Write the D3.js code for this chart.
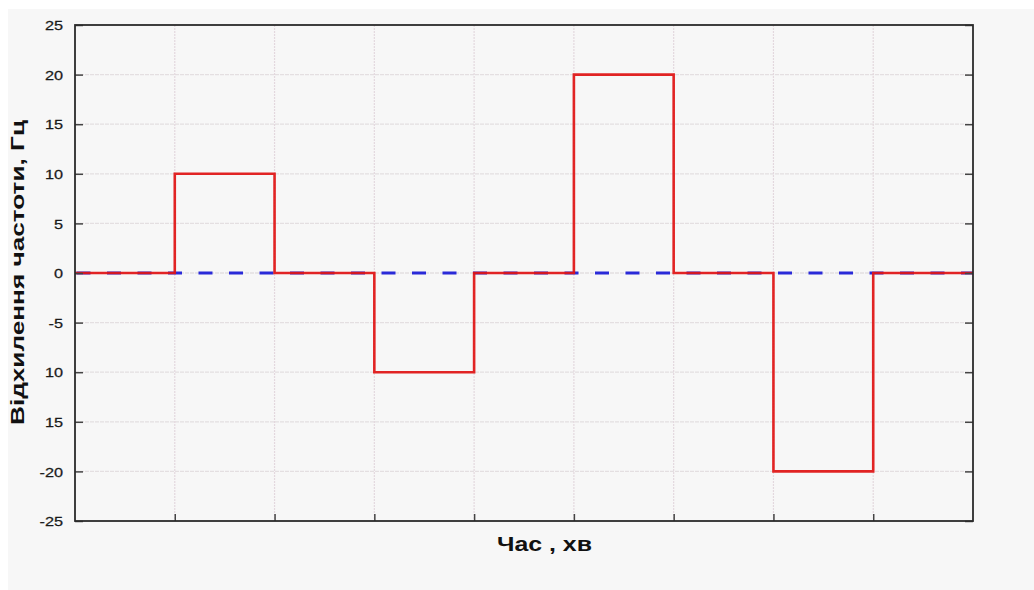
<!DOCTYPE html>
<html>
<head>
<meta charset="utf-8">
<script src="https://cdn.jsdelivr.net/npm/d3@7"></script>
<style>
  html, body { margin: 0; padding: 0; background: #ffffff; }
  svg { display: block; }
</style>
</head>
<body>
<svg id="chart" width="1034" height="590"></svg>
<script>
// ---- data ----
const timeSteps = [0, 1, 2, 3, 4, 5, 6, 7, 8, 9];          // minute boundaries
const freqDeviation = [0, 10, 0, -10, 0, 20, 0, -20, 0];    // Hz, per interval
const nominalLine = [0, 0, 0, 0, 0, 0, 0, 0, 0];            // Hz reference (dashed)
const yTickValues = [25, 20, 15, 10, 5, 0, -5, -10, -15, -20, -25];
const yTickLabels = ["25", "20", "15", "10", "5", "0", "-5", "10", "15", "-20", "-25"];
const xTickValues = [1, 2, 3, 4, 5, 6, 7, 8];
const yTitle = "Відхилення частоти, Гц";
const xTitle = "Час , хв";

(function () {
// ---- layout ----
const svg = d3.select("#chart");
const pL = 75, pT = 25, pR = 973, pB = 521;

svg.append("rect").attr("x", 8).attr("y", 9).attr("width", 1026).attr("height", 581)
  .attr("fill", "#f7f7f7");

const x = d3.scaleLinear().domain([0, 9]).range([pL, pR]);
const y = d3.scaleLinear().domain([-25, 25]).range([pB, pT]);

// grid
const grid = svg.append("g");
grid.selectAll("line.h").data(yTickValues.filter(v => v !== 25 && v !== -25)).join("line")
  .attr("class", "h")
  .attr("x1", pL).attr("x2", pR)
  .attr("y1", d => y(d)).attr("y2", d => y(d))
  .attr("stroke", "#e4dfe1").attr("stroke-width", 1.3).attr("stroke-dasharray", "4,1");
grid.selectAll("line.v").data(xTickValues).join("line")
  .attr("class", "v")
  .attr("x1", d => x(d)).attr("x2", d => x(d))
  .attr("y1", pT).attr("y2", pB)
  .attr("stroke", "#e3d8de").attr("stroke-width", 1.2).attr("stroke-dasharray", "2,1");

// series
const stepPts = (vals) => vals.map((v, i) => [timeSteps[i], v]).concat([[timeSteps[vals.length], vals[vals.length - 1]]]);
const line = d3.line().x(d => x(d[0])).y(d => y(d[1])).curve(d3.curveStepAfter);

svg.append("path").datum(stepPts(nominalLine))
  .attr("d", line).attr("fill", "none")
  .attr("stroke", "#2a2ad8").attr("stroke-width", 3)
  .attr("stroke-dasharray", "14,16.5").attr("stroke-dashoffset", 29);

svg.append("path").datum(stepPts(freqDeviation))
  .attr("d", line).attr("fill", "none")
  .attr("stroke", "#e01414").attr("stroke-width", 2.6)
  .attr("stroke-linejoin", "miter").attr("opacity", 0.93);

// axes
const yAxis = svg.append("g").attr("transform", `translate(${pL},0)`)
  .call(d3.axisLeft(y).tickValues(yTickValues).tickFormat((d, i) => yTickLabels[i]).tickSizeInner(-8).tickSizeOuter(0).tickPadding(0));
yAxis.select(".domain").remove();
yAxis.selectAll(".tick line").attr("stroke", "#444").attr("stroke-width", 1.5);
yAxis.selectAll(".tick text")
  .attr("x", -12 / 1.25).attr("dy", "0.36em")
  .attr("transform", "scale(1.25,1)")
  .attr("font-family", "Liberation Sans, Arial, sans-serif")
  .attr("font-size", 13).attr("fill", "#1a1a1a")
  .attr("stroke", "#1a1a1a").attr("stroke-width", 0.25);

const yAxisR = svg.append("g").attr("transform", `translate(${pR},0)`)
  .call(d3.axisRight(y).tickValues(yTickValues).tickFormat("").tickSizeInner(-8).tickSizeOuter(0));
yAxisR.select(".domain").remove();
yAxisR.selectAll(".tick line").attr("stroke", "#444").attr("stroke-width", 1.5);

const xAxis = svg.append("g").attr("transform", `translate(0,${pB})`)
  .call(d3.axisBottom(x).tickValues(xTickValues).tickFormat("").tickSizeInner(-7).tickSizeOuter(0));
xAxis.select(".domain").remove();
xAxis.selectAll(".tick line").attr("stroke", "#444").attr("stroke-width", 1.5);

// frame
svg.append("rect").attr("x", pL).attr("y", pT)
  .attr("width", pR - pL).attr("height", pB - pT)
  .attr("fill", "none").attr("stroke", "#2b2b2b").attr("stroke-width", 1.8);

// titles
svg.append("text")
  .attr("transform", `translate(24,${(120 + 425) / 2}) rotate(-90)`)
  .attr("text-anchor", "middle")
  .attr("font-family", "Liberation Sans, Arial, sans-serif")
  .attr("font-weight", "bold").attr("font-size", 19).attr("fill", "#111")
  .attr("textLength", 305).attr("lengthAdjust", "spacingAndGlyphs")
  .text(yTitle);

svg.append("text")
  .attr("x", 497).attr("y", 551)
  .attr("font-family", "Liberation Sans, Arial, sans-serif")
  .attr("font-weight", "bold").attr("font-size", 21).attr("fill", "#111")
  .attr("textLength", 95).attr("lengthAdjust", "spacingAndGlyphs")
  .text(xTitle);
})();
</script>
</body>
</html>
